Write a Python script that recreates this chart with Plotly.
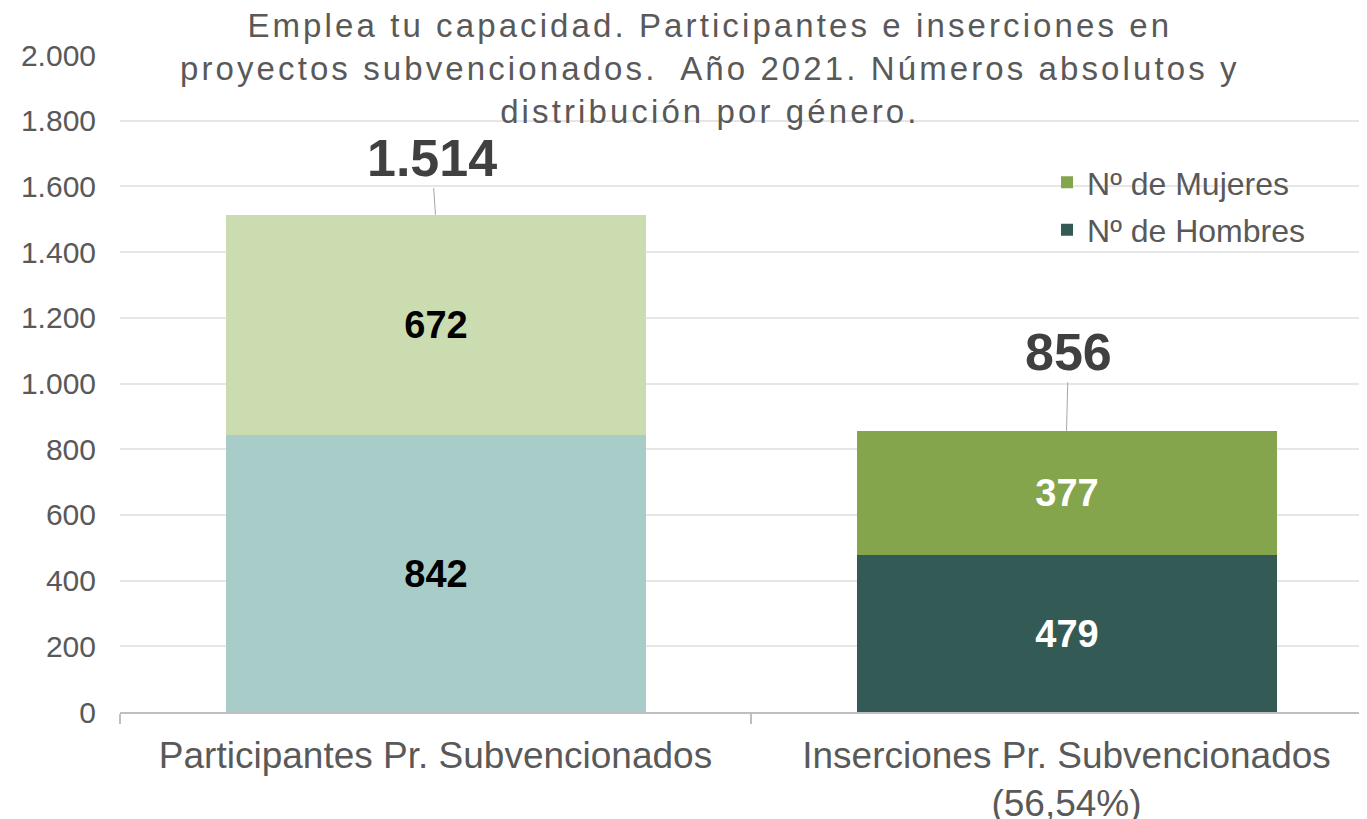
import plotly.graph_objects as go

# ---- data ----
categories = ["Participantes Pr. Subvencionados", "Inserciones Pr. Subvencionados<br>(56,54%)"]
hombres = [842, 479]
mujeres = [672, 377]
colors_hombres = ["#a8cdc9", "#335a55"]
colors_mujeres = ["#cbdcb0", "#84a54c"]
text_colors = ["#000000", "#ffffff"]
legend_names = ["Nº de Hombres", "Nº de Mujeres"]
title_lines = [
    "Emplea tu capacidad. Participantes e inserciones en",
    "proyectos subvencionados.  Año 2021. Números absolutos y",
    "distribución por género.",
]
y_ticks = list(range(0, 2001, 200))

FONT = "Liberation Sans, Arial, sans-serif"
GRAY = "#595959"

fig = go.Figure()
xs = list(range(len(categories)))
for i, x in enumerate(xs):
    show = i == len(xs) - 1
    for vals, cols, name, grp, rank in ((hombres, colors_hombres, legend_names[0], "h", 2),
                                        (mujeres, colors_mujeres, legend_names[1], "m", 1)):
        fig.add_trace(go.Bar(
            x=[x], y=[vals[i]], width=0.6656,
            marker=dict(color=cols[i], line=dict(width=0)),
            name=name, showlegend=show, legendgroup=grp, legendrank=rank,
            text=[str(vals[i])], textposition="inside", insidetextanchor="middle",
            textangle=0, constraintext="none",
            textfont=dict(family=FONT, size=38, color=text_colors[i], weight="bold"),
            hoverinfo="skip",
        ))

# totals with leader lines
offsets = [(-4, -57), (2, -79)]
for i, x in enumerate(xs):
    total = hombres[i] + mujeres[i]
    fig.add_annotation(
        x=x, y=total, xref="x", yref="y",
        text=f"<b>{total:,}</b>".replace(",", "."),
        showarrow=True, arrowhead=0, arrowwidth=1, arrowcolor="#a6a6a6",
        ax=offsets[i][0], ay=offsets[i][1], standoff=0,
        font=dict(family=FONT, size=52, color="#404040"),
    )

# title
title_text = "<br>".join(f"<span style='letter-spacing:3.1px'>{l}</span>" for l in title_lines)
fig.add_annotation(
    text=title_text, xref="paper", yref="paper",
    x=(710 - 120) / 1247, y=(712 - 5) / 657, xanchor="center", yanchor="top",
    showarrow=False, align="center",
    font=dict(family=FONT, size=33, color=GRAY),
)

fig.update_layout(
    width=1359, height=811,
    margin=dict(l=112, r=0, t=47, b=107, autoexpand=False),
    paper_bgcolor="white", plot_bgcolor="white",
    barmode="stack", bargap=0,
    separators=",.",
    font=dict(family=FONT, color=GRAY),
    legend=dict(x=0.7434, y=0.848, xanchor="left", yanchor="top",
                traceorder="grouped", tracegroupgap=3,
                font=dict(family=FONT, size=32, color=GRAY),
                bgcolor="rgba(0,0,0,0)"),
    showlegend=True,
)
fig.update_xaxes(
    range=[-0.5, 1.4762], tickmode="array", tickvals=xs, ticktext=categories,
    ticks="", showgrid=False, zeroline=False, automargin=False,
    showline=True, linecolor="#bfbfbf", linewidth=1.5,
    tickfont=dict(family=FONT, size=37, color=GRAY), ticklabelstandoff=10,
    minor=dict(tickmode="array", tickvals=[-0.5, 0.5, 1.5], ticks="outside",
               ticklen=10, tickcolor="#bfbfbf", tickwidth=1.5, showgrid=False),
)
fig.update_yaxes(
    range=[0, 2000], tickmode="array", tickvals=y_ticks, automargin=False,
    ticks="", showgrid=True, gridcolor="#e6e6e6", gridwidth=2, zeroline=False,
    tickformat=",d", tickfont=dict(family=FONT, size=30, color=GRAY),
    ticklabelstandoff=23,
)

fig.write_html("out.html")
